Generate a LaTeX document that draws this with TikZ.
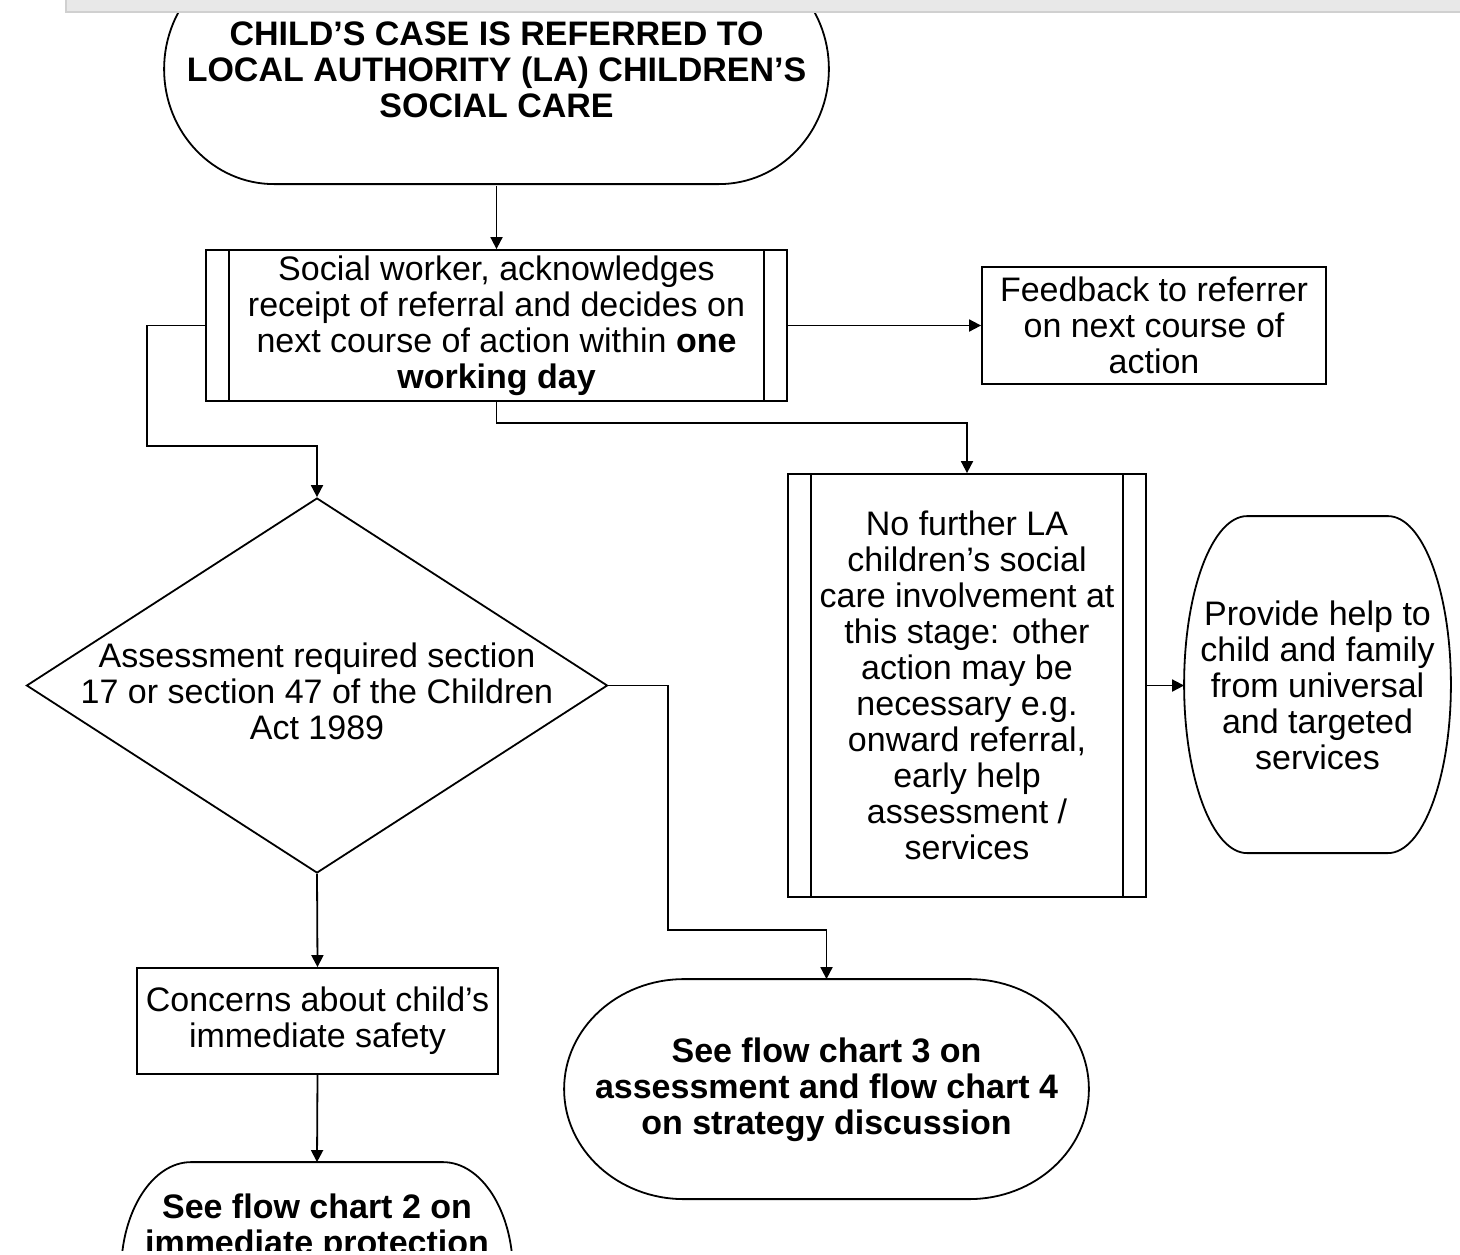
\documentclass[tikz,border=0pt]{standalone}
\usepackage{fontspec}
\setmainfont{Liberation Sans}
\usetikzlibrary{shapes.geometric,arrows.meta,calc}

\definecolor{barfill}{HTML}{E8E8E8}
\definecolor{barline}{HTML}{D0D0D0}

\tikzset{
  flow/.style={line width=0.9pt},
  arr/.style={flow,-{Triangle[length=6pt,width=6pt]}},
  size/.style 2 args={minimum width=#1*0.5pt,minimum height=#2*0.5pt},
  box/.style={draw,flow,rectangle,inner sep=0pt,align=center,
    font=\fontsize{17}{18}\selectfont},
  term/.style={box,draw=none},
  bold/.style={font=\bfseries\fontsize{17}{18}\selectfont},
  decide/.style={draw,flow,diamond,inner sep=0pt},
}

% terminator outline: node, x radius, y radius
\newcommand{\termline}[3]{%
  \draw[flow] ($(#1.north west)+(#2,0)$) -- ($(#1.north east)+(-#2,0)$)
    arc[start angle=90,end angle=-90,x radius=#2,y radius=#3]
    -- ($(#1.north west)+(#2,-2*#3)$)
    arc[start angle=270,end angle=90,x radius=#2,y radius=#3] -- cycle;}

\begin{document}
\begin{tikzpicture}[x=0.5pt,y=0.5pt]
  \useasboundingbox (0,0) rectangle (1460,-1254);
  \begin{scope}
    \clip (0,0) rectangle (1460,-1250);
    \node[term,bold,size={663}{230}] (refer) at (496.5,-70)
      {CHILD'S CASE IS REFERRED TO\\LOCAL AUTHORITY (LA) CHILDREN'S\\SOCIAL CARE};
    \node[box,size={581}{151}] (social) at (496.5,-325.5)
      {Social worker, acknowledges\\receipt of referral and decides on\\next course of action within \textbf{one}\\\textbf{working day}};
    \node[box,size={344}{117}] (feedback) at (1154,-325.5)
      {Feedback to referrer\\on next course of\\action};
    \node[box,size={358}{423}] (nofurther) at (967,-685.5)
      {No further LA\\children's social\\care involvement at\\this stage: other\\action may be\\necessary e.g.\\onward referral,\\early help\\assessment /\\services};
    \node[term,size={265}{337}] (help) at (1317.5,-685.5)
      {Provide help to\\child and family\\from universal\\and targeted\\services};
    \node[decide,size={581}{375}] (assess) at (317,-685.5) {};
    \node[term] (assesstxt) at (317,-691)
      {Assessment required section\\17 or section 47 of the Children\\Act 1989};
    \node[box,size={361}{106}] (concern) at (317.5,-1021)
      {Concerns about child's\\immediate safety};
    \node[term,bold,size={523}{220}] (fc3) at (826.5,-1090)
      {See flow chart 3 on\\assessment and flow chart 4\\on strategy discussion};
    \node[term,bold,size={390}{130}] (fc2) at (317,-1228)
      {See flow chart 2 on\\immediate protection};

    % rounded ends
    \termline{refer}{110}{115}
    \termline{help}{63}{168.5}
    \termline{fc3}{120}{110}
    \termline{fc2}{70}{110}

    % double sides
    \foreach \n in {social,nofurther} {
      \draw[flow] ($(\n.north west)+(24,0)$) -- ($(\n.south west)+(24,0)$);
      \draw[flow] ($(\n.north east)+(-24,0)$) -- ($(\n.south east)+(-24,0)$);
    }

    \coordinate (leftbend) at (147,-446);
    \coordinate (rightbend) at (668,-930);
    \draw[arr] (refer) -- (social);
    \draw[arr] (social) -- (feedback);
    \draw[arr] (social.west) -| (leftbend) -| (assess.north);
    \draw[arr] (social.south) -- ++(0,-21) -| (nofurther.north);
    \draw[arr] (nofurther.east) -- (help.west);
    \draw[arr] (assess.south) -- (concern.north);
    \draw[arr] (concern.south) -- (fc2.north);
    \draw[arr] (assess.east) -| (rightbend) -| (fc3.north);
  \end{scope}
  % window bar
  \fill[barfill] (65,0) rectangle (1460,-12);
  \draw[barline,line width=1pt] (66,0) -- (66,-12) -- (1460,-12);
\end{tikzpicture}
\end{document}
